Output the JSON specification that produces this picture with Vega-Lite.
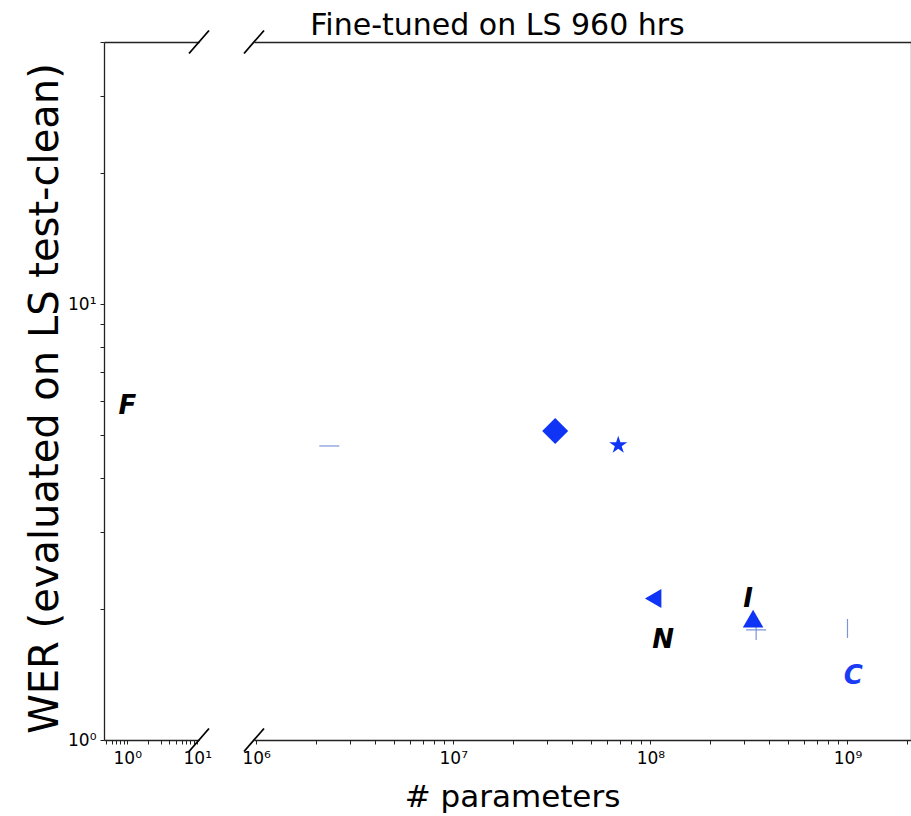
{
  "$schema": "https://vega.github.io/schema/vega-lite/v6.json",
  "background": "white",
  "padding": {"left": 25, "top": 10, "right": 0, "bottom": 5},
  "config": {
    "view": {"stroke": null},
    "font": "DejaVu Sans",
    "axis": {
      "grid": false,
      "domainColor": "#222222",
      "domainWidth": 1.3,
      "tickColor": "#222222",
      "tickWidth": 1,
      "tickSize": 4,
      "labelColor": "black",
      "labelFont": "DejaVu Sans",
      "labelFontSize": 17,
      "titleFont": "DejaVu Sans",
      "titleFontWeight": "normal",
      "titleColor": "black"
    }
  },
  "datasets": {
    "leftText": [{"label": "F", "params": 1.0, "wer": 5.83}],
    "leftBreaks": [{"params": 10.6, "wer": 1}, {"params": 10.6, "wer": 40}],
    "points": [
      {"id": "p1", "params": 2350000, "wer": 4.73},
      {"id": "p2", "params": 32900000, "wer": 5.12},
      {"id": "p3", "params": 68700000, "wer": 4.75},
      {"id": "p4", "params": 103300000, "wer": 2.113},
      {"id": "p5", "params": 332000000, "wer": 1.9},
      {"id": "p6", "params": 344000000, "wer": 1.789},
      {"id": "p7", "params": 1000000000, "wer": 1.803}
    ],
    "rightText": [
      {"label": "N", "params": 116000000, "wer": 1.696},
      {"label": "I", "params": 313000000, "wer": 2.11},
      {"label": "C", "params": 1070000000, "wer": 1.40}
    ],
    "rightBreaks": [{"params": 975000, "wer": 1}, {"params": 975000, "wer": 40}]
  },
  "spacing": 27,
  "hconcat": [
    {
      "width": 95,
      "height": 698,
      "resolve": {"axis": {"x": "independent", "y": "independent"}},
      "layer": [
        {
          "data": {"name": "leftText"},
          "mark": {"type": "text", "fontStyle": "italic", "fontWeight": "bold", "fontSize": 26, "font": "DejaVu Sans", "align": "center", "baseline": "middle", "color": "black"},
          "encoding": {
            "x": {
              "field": "params", "type": "quantitative",
              "scale": {"type": "log", "domain": [0.465, 10.6], "nice": false, "zero": false},
              "axis": {
                "orient": "bottom", "title": null,
                "values": [0.5, 0.6, 0.7, 0.8, 0.9, 1, 2, 3, 4, 5, 6, 7, 8, 9, 10],
                "labelExpr": "datum.value == 1 ? '10⁰' : datum.value == 10 ? '10¹' : ''",
                "labelPadding": 6,
                "labelFlush": false,
                "labelOverlap": false
              }
            },
            "y": {
              "field": "wer", "type": "quantitative",
              "scale": {"type": "log", "domain": [1, 40], "nice": false, "zero": false},
              "axis": {
                "orient": "left",
                "values": [1, 2, 3, 4, 5, 6, 7, 8, 9, 10, 20, 30, 40],
                "labelExpr": "datum.value == 1 ? '10⁰' : datum.value == 10 ? '10¹' : ''",
                "labelPadding": 4,
                "labelOverlap": false,
                "labelFlush": false,
                "title": "WER (evaluated on LS test-clean)",
                "titleFontSize": 40,
                "titleBaseline": "alphabetic",
                "titleAngle": -90,
                "titleAlign": "center",
                "titleX": -47,
                "titleY": 356
              }
            },
            "text": {"field": "label", "type": "nominal"}
          }
        },
        {
          "data": {"name": "leftBreaks"},
          "mark": {"type": "point", "shape": "M-0.87,1L0.87,-1", "size": 529, "filled": false, "stroke": "black", "strokeWidth": 1.8, "opacity": 1},
          "encoding": {
            "x": {
              "field": "params", "type": "quantitative",
              "scale": {"type": "log", "domain": [0.465, 10.6], "nice": false, "zero": false},
              "axis": {"orient": "top", "title": null, "ticks": false, "labels": false, "domain": true}
            },
            "y": {
              "field": "wer", "type": "quantitative",
              "scale": {"type": "log", "domain": [1, 40], "nice": false, "zero": false},
              "axis": null
            }
          }
        }
      ]
    },
    {
      "width": 657,
      "height": 698,
      "resolve": {"axis": {"x": "independent", "y": "independent"}},
      "layer": [
        {
          "data": {"name": "points"},
          "transform": [{"filter": "datum.id == 'p2'"}],
          "mark": {"type": "point", "shape": "diamond", "size": 676, "filled": true, "color": "#0f34f5", "opacity": 1},
          "encoding": {
            "x": {
              "field": "params", "type": "quantitative",
              "scale": {"type": "log", "domain": [975000, 2100000000], "nice": false, "zero": false},
              "axis": {
                "orient": "bottom",
                "values": [1000000, 2000000, 3000000, 4000000, 5000000, 6000000, 7000000, 8000000, 9000000, 10000000, 20000000, 30000000, 40000000, 50000000, 60000000, 70000000, 80000000, 90000000, 100000000, 200000000, 300000000, 400000000, 500000000, 600000000, 700000000, 800000000, 900000000, 1000000000, 2000000000],
                "labelExpr": "datum.value == 1000000 ? '10⁶' : datum.value == 10000000 ? '10⁷' : datum.value == 100000000 ? '10⁸' : datum.value == 1000000000 ? '10⁹' : ''",
                "labelPadding": 6,
                "labelFlush": false,
                "labelOverlap": false,
                "title": "# parameters",
                "titleFontSize": 31,
                "titleBaseline": "alphabetic",
                "titleAlign": "center",
                "titleX": 258,
                "titleY": 66
              }
            },
            "y": {
              "field": "wer", "type": "quantitative",
              "scale": {"type": "log", "domain": [1, 40], "nice": false, "zero": false},
              "axis": {"orient": "right", "title": null, "ticks": false, "labels": false, "domain": true}
            }
          }
        },
        {
          "data": {"name": "points"},
          "transform": [{"filter": "datum.id == 'p3'"}],
          "mark": {"type": "point", "shape": "M0,-1L0.2245,-0.309L0.951,-0.309L0.363,0.118L0.588,0.809L0,0.382L-0.588,0.809L-0.363,0.118L-0.951,-0.309L-0.2245,-0.309Z", "size": 358, "filled": true, "color": "#0f34f5", "opacity": 1},
          "encoding": {
            "x": {"field": "params", "type": "quantitative", "axis": null},
            "y": {"field": "wer", "type": "quantitative", "axis": null}
          }
        },
        {
          "data": {"name": "points"},
          "transform": [{"filter": "datum.id == 'p4'"}],
          "mark": {"type": "point", "shape": "triangle-left", "size": 361, "filled": true, "color": "#0f34f5", "opacity": 1},
          "encoding": {
            "x": {"field": "params", "type": "quantitative", "axis": null},
            "y": {"field": "wer", "type": "quantitative", "axis": null}
          }
        },
        {
          "data": {"name": "points"},
          "transform": [{"filter": "datum.id == 'p6'"}],
          "mark": {"type": "point", "shape": "M-1,0H1M0,-1V1", "size": 400, "filled": false, "stroke": "#7f93d8", "strokeWidth": 1.2, "opacity": 1},
          "encoding": {
            "x": {"field": "params", "type": "quantitative", "axis": null},
            "y": {"field": "wer", "type": "quantitative", "axis": null}
          }
        },
        {
          "data": {"name": "points"},
          "transform": [{"filter": "datum.id == 'p5'"}],
          "mark": {"type": "point", "shape": "triangle-up", "size": 420, "filled": true, "color": "#0f34f5", "opacity": 1},
          "encoding": {
            "x": {"field": "params", "type": "quantitative", "axis": null},
            "y": {"field": "wer", "type": "quantitative", "axis": null}
          }
        },
        {
          "data": {"name": "points"},
          "transform": [{"filter": "datum.id == 'p1'"}],
          "mark": {"type": "point", "shape": "M-1,0H1", "size": 400, "filled": false, "stroke": "#7f93d8", "strokeWidth": 1.2, "opacity": 1},
          "encoding": {
            "x": {"field": "params", "type": "quantitative", "axis": null},
            "y": {"field": "wer", "type": "quantitative", "axis": null}
          }
        },
        {
          "data": {"name": "points"},
          "transform": [{"filter": "datum.id == 'p7'"}],
          "mark": {"type": "point", "shape": "M0,-1V1", "size": 361, "filled": false, "stroke": "#7f93d8", "strokeWidth": 1.2, "opacity": 1},
          "encoding": {
            "x": {"field": "params", "type": "quantitative", "axis": null},
            "y": {"field": "wer", "type": "quantitative", "axis": null}
          }
        },
        {
          "data": {"name": "rightText"},
          "mark": {"type": "text", "fontStyle": "italic", "fontWeight": "bold", "fontSize": 26, "font": "DejaVu Sans", "align": "center", "baseline": "middle"},
          "encoding": {
            "x": {"field": "params", "type": "quantitative", "axis": null},
            "y": {"field": "wer", "type": "quantitative", "axis": null},
            "text": {"field": "label", "type": "nominal"},
            "color": {"condition": {"test": "datum.label == 'C'", "value": "#1a3cf5"}, "value": "black"}
          }
        },
        {
          "data": {"name": "rightBreaks"},
          "mark": {"type": "point", "shape": "M-0.87,1L0.87,-1", "size": 529, "filled": false, "stroke": "black", "strokeWidth": 1.8, "opacity": 1},
          "encoding": {
            "x": {
              "field": "params", "type": "quantitative",
              "axis": {
                "orient": "top", "ticks": false, "labels": false, "domain": true,
                "title": "Fine-tuned on LS 960 hrs",
                "titleFontSize": 30,
                "titleBaseline": "alphabetic",
                "titleAlign": "center",
                "titleAngle": 0,
                "titleX": 243,
                "titleY": -8
              }
            },
            "y": {"field": "wer", "type": "quantitative", "axis": null}
          }
        }
      ]
    }
  ]
}
